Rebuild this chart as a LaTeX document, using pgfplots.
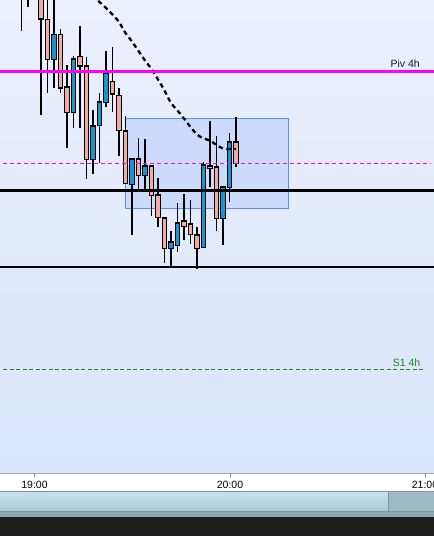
\documentclass[border=0pt]{standalone}
\usepackage{pgfplots}
\pgfplotsset{compat=1.18}
\usepackage{pgfplotstable}
\usepackage{fontspec}
\setmainfont{Liberation Sans}
\definecolor{bgtop}{HTML}{EBF0FD}
\definecolor{bgbot}{HTML}{DAE4FB}
\definecolor{upc}{HTML}{1597CF}
\definecolor{dnc}{HTML}{F4AAA3}
\definecolor{zonef}{HTML}{CCDBFB}
\definecolor{zoned}{HTML}{5B8DF5}
\definecolor{magl}{HTML}{FF00FF}
\definecolor{greenl}{HTML}{1A8A1A}
\definecolor{grayl}{HTML}{7D939F}
\definecolor{scrtop}{HTML}{C5E1EC}
\definecolor{scrbot}{HTML}{A6CAD6}
\definecolor{scrr}{HTML}{9DBAC5}
\definecolor{darkb}{HTML}{1E1E1E}
\definecolor{pivtxt}{HTML}{141C38}

% candles in pixel units (y grows downward): x open high low close
\pgfplotstableread{
x o h l c
21.5 -50 -60 31 -20
28 -40 -60 7 -15
34.5 -50 -70 -10 -30
41 -20 -30 115 19
47.5 20 -5 93 59
54 59 -5 88 35
60.5 35 29 93 88
67 87 65 148 112
73.5 112 56 128 59
80 57 26 128 66
86.5 66 57 179 159
93 159 110 174 126
99.5 125 93 163 102
106 102 51 107 73
112.5 82 47 112 94
119 96 88 156 130
125.5 131 116 183 183
132 184 159 235 159
138.5 159 138 190 175
145 175 139 189 166
151.5 166 166 216 195
158 195 178 227 217
164.5 218 218 263 248
171 248 231 266 242
177.5 245 203 252 223
184 221 194 240 226
190.5 224 200 244 234
197 235 227 269 248
203.5 247 162 248 165
210 166 121 187 168
216.5 167 136 231 218
223 218 186 245 187
229.5 187 133 202 142
236 142 117 167 163
}\candles

\pgfplotstableread{
x y
86.5 -10
93 -4
99.5 2
106 8
112.5 14.5
119 22
125.5 33
132 41.5
138.5 51
145 60.5
151.5 69
158 79.5
164.5 90.5
171 103
177.5 110.5
184 118.5
190.5 127
197 134.5
203.5 138.5
210 140.5
216.5 145
223 148.5
229.5 149
236 149
}\mavg

\begin{document}
\begin{tikzpicture}
\begin{axis}[
  scale only axis, width=434bp, height=536bp,
  xmin=0, xmax=434, ymin=0, ymax=536, y dir=reverse,
  hide axis, clip=true,
]
% backgrounds
\shade[top color=bgtop, bottom color=bgbot] (axis cs:0,0) rectangle (axis cs:434,473);
\fill[white] (axis cs:0,473) rectangle (axis cs:434,491);
\fill[grayl!80] (axis cs:0,472.5) rectangle (axis cs:434,473.5);
\fill[grayl] (axis cs:0,491) rectangle (axis cs:434,492);
\shade[top color=scrtop, bottom color=scrbot] (axis cs:0,492) rectangle (axis cs:388,511);
\fill[scrr] (axis cs:388,492) rectangle (axis cs:434,511);
\fill[grayl] (axis cs:387.5,492) rectangle (axis cs:388.5,511);
\fill[grayl] (axis cs:0,511) rectangle (axis cs:434,512);
\fill[scrr!90!black] (axis cs:0,512) rectangle (axis cs:434,516.5);
\fill[darkb] (axis cs:0,516.5) rectangle (axis cs:434,536);
% zone box
\draw[zoned, fill=zonef, line width=1.1bp] (axis cs:125.5,118.5) rectangle (axis cs:288.5,208.5);
% wicks
\addplot[draw=none, mark=none, forget plot,
  error bars/.cd, y dir=both, y explicit, error mark=none,
  error bar style={draw=black, line width=1.2bp, solid}]
  table[x=x, y expr={(\thisrow{h}+\thisrow{l})/2}, y error expr={(\thisrow{l}-\thisrow{h})/2}] {\candles};
% body outlines
\addplot[draw=none, mark=none, forget plot,
  error bars/.cd, y dir=both, y explicit, error mark=none,
  error bar style={draw=black, line width=5.8bp, solid}]
  table[x=x, y expr={(\thisrow{o}+\thisrow{c})/2}, y error expr={abs(\thisrow{c}-\thisrow{o})/2+0.6}] {\candles};
% bullish bodies
\addplot[draw=none, mark=none, forget plot,
  restrict expr to domain={\thisrow{o}-\thisrow{c}}{0.001:10000},
  error bars/.cd, y dir=both, y explicit, error mark=none,
  error bar style={draw=upc, line width=3.6bp, solid}]
  table[x=x, y expr={(\thisrow{o}+\thisrow{c})/2}, y error expr={abs(\thisrow{c}-\thisrow{o})/2-0.5}] {\candles};
% bearish bodies
\addplot[draw=none, mark=none, forget plot,
  restrict expr to domain={\thisrow{o}-\thisrow{c}}{-10000:0},
  error bars/.cd, y dir=both, y explicit, error mark=none,
  error bar style={draw=dnc, line width=3.6bp, solid}]
  table[x=x, y expr={(\thisrow{o}+\thisrow{c})/2}, y error expr={abs(\thisrow{c}-\thisrow{o})/2-0.5}] {\candles};
% moving average
\addplot[black, line width=2.3bp, dash pattern=on 4.5bp off 3.5bp, smooth, mark=none] table[x=x,y=y] {\mavg};
% horizontal levels
\addplot[magl, line width=3bp, mark=none] coordinates {(0,71.5) (434,71.5)};
\addplot[magl, line width=1.4bp, dash pattern=on 4bp off 3bp, mark=none] coordinates {(3,163.5) (431,163.5)};
\addplot[black, line width=3bp, mark=none] coordinates {(0,190.5) (434,190.5)};
\addplot[black, line width=2bp, mark=none] coordinates {(0,267) (434,267)};
\addplot[greenl, line width=1.4bp, dash pattern=on 4bp off 2.5bp, mark=none] coordinates {(3,369.5) (423,369.5)};
% labels
\node[anchor=base east, font=\fontsize{10.5bp}{12bp}\selectfont, text=pivtxt, inner sep=0pt] at (axis cs:420,67.5) {Piv 4h};
\node[anchor=base east, font=\fontsize{10.5bp}{12bp}\selectfont, text=greenl, inner sep=0pt] at (axis cs:420.5,366) {S1 4h};
% time axis ticks and labels
\foreach \t/\lab in {34.5/19:00, 230/20:00, 425/21:00}{
  \edef\temp{\noexpand\draw[grayl, line width=1bp] (axis cs:\t,473) -- (axis cs:\t,477);}\temp
  \edef\temp{\noexpand\node[anchor=base, font=\noexpand\fontsize{10.5bp}{12bp}\noexpand\selectfont, text=black, inner sep=0pt] at (axis cs:\t,488) {\lab};}\temp
}
\end{axis}
\end{tikzpicture}
\end{document}
